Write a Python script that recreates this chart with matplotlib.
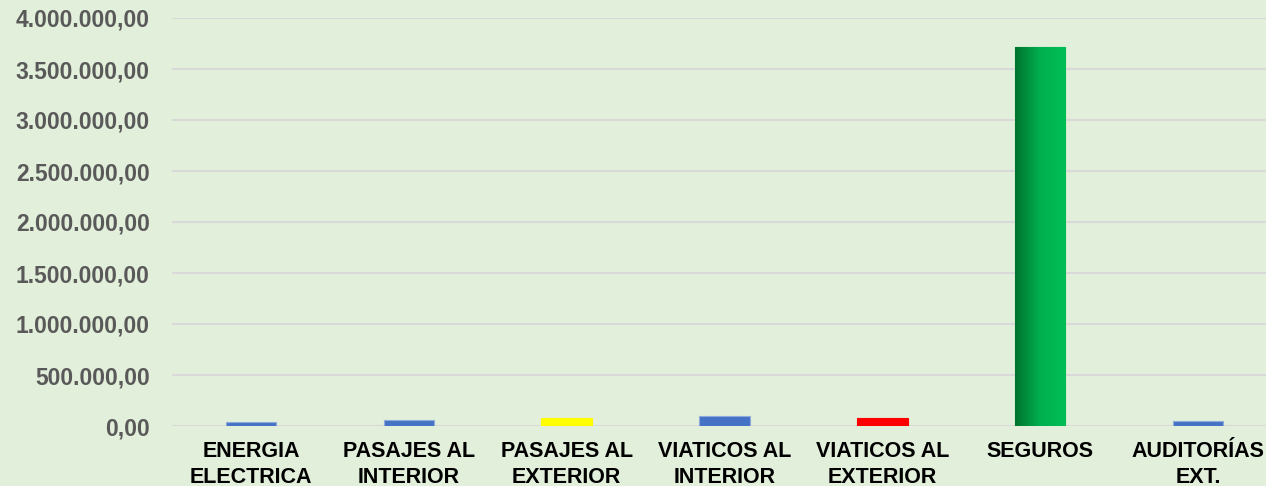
import matplotlib.pyplot as plt
import numpy as np
from matplotlib.ticker import FuncFormatter
from matplotlib.colors import LinearSegmentedColormap

categories = ["ENERGIA\nELECTRICA", "PASAJES AL\nINTERIOR", "PASAJES AL\nEXTERIOR",
              "VIATICOS AL\nINTERIOR", "VIATICOS AL\nEXTERIOR", "SEGUROS", "AUDITORÍAS\nEXT."]
values = [35000, 60000, 80000, 95000, 80000, 3716000, 50000]
bar_colors = ["#4472C4", "#4472C4", "#FFFF00", "#4472C4", "#FF0000", "#00B050", "#4472C4"]
edge_colors = ["#8FAADC", "#8FAADC", "#FFFF00", "#8FAADC", "#FF0000", "#00B050", "#8FAADC"]

BG = "#E2EFDA"
plt.rcParams["font.family"] = ["Liberation Sans", "DejaVu Sans"]


def es_fmt(v, pos):
    s = f"{v:,.2f}"
    return s.replace(",", "X").replace(".", ",").replace("X", ".")


fig = plt.figure(figsize=(12.66, 4.86), dpi=100, facecolor=BG)
ax = fig.add_axes([172 / 1266, 60 / 486, 1105 / 1266, 408 / 486])
ax.set_facecolor(BG)

x = np.arange(len(categories))
bars = ax.bar(x, values, width=0.32, color=bar_colors, edgecolor=edge_colors,
              linewidth=0.8, zorder=3)

# gradient fill for SEGUROS bar
seg = bars[5]
bx, by = seg.get_x(), seg.get_y()
bw, bh = seg.get_width(), seg.get_height()
cmap = LinearSegmentedColormap.from_list("g", ["#00732E", "#00B050", "#00BF55"])
grad = np.linspace(0, 1, 256).reshape(1, -1)
im = ax.imshow(grad, cmap=cmap, aspect="auto", extent=[bx, bx + bw, by, by + bh],
               zorder=4, interpolation="bicubic")
im.set_clip_path(seg)

ax.set_xlim(-0.5, len(categories) - 0.5)
ax.set_ylim(0, 4000000)
ax.set_yticks(np.arange(0, 4000001, 500000))
ax.yaxis.set_major_formatter(FuncFormatter(es_fmt))
ax.set_xticks(x)
ax.set_xticklabels(categories, fontsize=15.5, fontweight="bold", color="black",
                   linespacing=1.3)
for lbl in ax.get_yticklabels():
    lbl.set_fontsize(16.5)
    lbl.set_fontweight("bold")
    lbl.set_color("#595959")

ax.tick_params(axis="y", length=0, pad=16)
ax.tick_params(axis="x", length=0, pad=11)
ax.grid(axis="y", color="#D9D9D9", linewidth=1.5, zorder=0)
for s in ax.spines.values():
    s.set_visible(False)

plt.savefig("out.png", dpi=100, facecolor=BG)
